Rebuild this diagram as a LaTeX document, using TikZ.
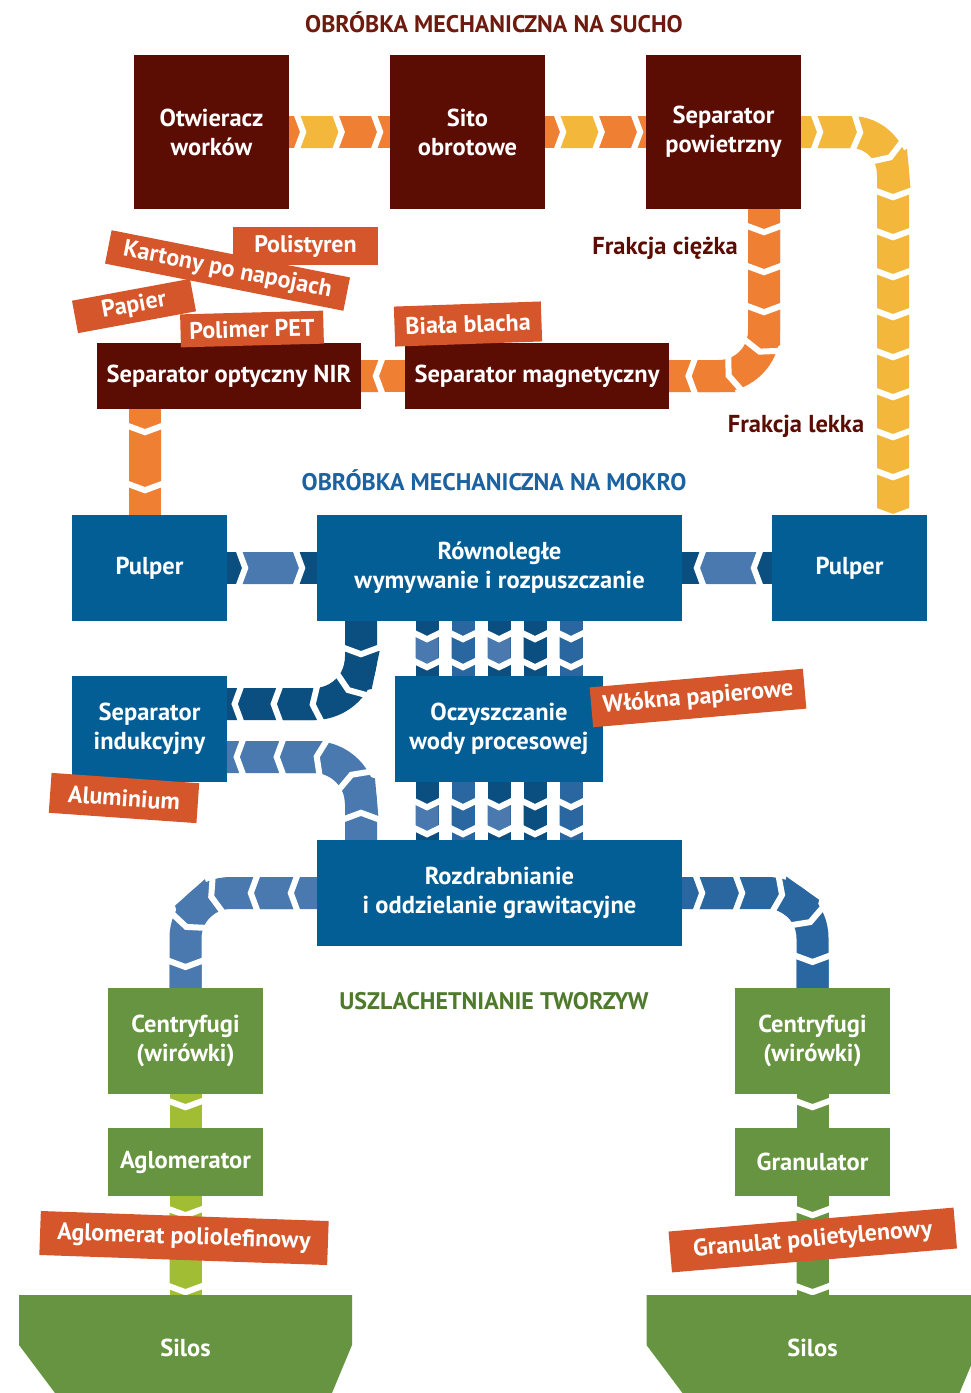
\documentclass[tikz,border=0pt]{standalone}
\usepackage{fontspec}
\setmainfont{PT Sans}
\usetikzlibrary{decorations.markings,backgrounds}

\definecolor{dryred}{RGB}{92,13,3}
\definecolor{drytitle}{RGB}{110,26,14}
\definecolor{chorange}{RGB}{238,127,51}
\definecolor{chyellow}{RGB}{243,184,59}
\definecolor{tagorange}{RGB}{213,86,43}
\definecolor{wetblue}{RGB}{3,94,150}
\definecolor{wettitle}{RGB}{28,98,160}
\definecolor{bluedark}{RGB}{11,78,128}
\definecolor{bluemid}{RGB}{42,103,160}
\definecolor{bluelight}{RGB}{74,121,175}
\definecolor{greenbox}{RGB}{103,148,64}
\definecolor{greentitle}{RGB}{79,122,44}
\definecolor{limegreen}{RGB}{161,189,51}

\newcommand\boxfont{\fontsize{24.5}{29}\selectfont\bfseries}
\newcommand\tagfont{\fontsize{24}{28}\selectfont\bfseries}
\newcommand\headfont{\fontsize{24}{28}\selectfont\bfseries}

% chevron band: depth of the arrow point and width of the white gap
\def\cbtip{7}
\def\cbgap{6pt}

% #1 base colour, #2 alternate colour, #3 half width, #4 period,
% #5 distance of the first gap from the start, #6 path
\newcommand\chevband[6]{%
  \pgfmathsetmacro\cbFirst{#5+#4/2}%
  \pgfmathsetmacro\cbTwo{2*#4}%
  \pgfmathsetmacro\cbHalf{#4/2}%
  \draw[#1, line width=2*#3] #6;%
  \path[decorate, decoration={markings,
      mark=between positions \cbFirst pt and 1 step \cbTwo pt with
      {\fill[#2, sharp corners] (-\cbHalf,#3) -- (\cbHalf,#3) -- (\cbHalf+\cbtip,0)
        -- (\cbHalf,-#3) -- (-\cbHalf,-#3) -- (-\cbHalf+\cbtip,0) -- cycle;}}] #6;%
  \path[decorate, decoration={markings,
      mark=between positions #5pt and 1 step #4pt with
      {\draw[white, sharp corners, line width=\cbgap] (0,#3+3) -- (\cbtip,0) -- (0,-#3-3);}}] #6;%
}

\begin{document}
\begin{tikzpicture}[x=1pt,y=-1pt,
  box/.style={fill=#1, text=white, font=\boxfont, align=center, inner sep=0pt},
  tag/.style={fill=tagorange, text=white, font=\tagfont, inner sep=0pt},
  head/.style={font=\headfont, text=#1, inner sep=0pt},
  flow/.style={font=\boxfont, text=dryred, inner sep=0pt}]

\useasboundingbox (0,0) rectangle (970,1393);

% ---------- dry mechanical treatment ----------
\node[box=dryred, minimum width=155, minimum height=154] (otw) at (211.5,132) {Otwieracz\\worków};
\node[box=dryred, minimum width=155, minimum height=154] (sito) at (467.5,132) {Sito\\obrotowe};
\node[box=dryred, minimum width=155, minimum height=154] (spow) at (723.5,132) {Separator\\powietrzny};
\node[box=dryred, minimum width=264, minimum height=66] (nir) at (229,376) {Separator optyczny NIR};
\node[box=dryred, minimum width=264, minimum height=66] (magn) at (537,376) {Separator magnetyczny};

% ---------- wet mechanical treatment ----------
\node[box=wetblue, minimum width=155, minimum height=106] (pL) at (149.5,568) {Pulper};
\node[box=wetblue, minimum width=365, minimum height=106] (row) at (499.5,568) {Równoległe\\wymywanie i rozpuszczanie};
\node[box=wetblue, minimum width=155, minimum height=106] (pR) at (849.5,568) {Pulper};
\node[box=wetblue, minimum width=155, minimum height=106] (ind) at (149.5,729) {Separator\\indukcyjny};
\node[box=wetblue, minimum width=208, minimum height=106] (ocz) at (499,729) {Oczyszczanie\\wody procesowej};
\node[box=wetblue, minimum width=365, minimum height=106] (roz) at (499.5,893) {Rozdrabnianie\\i oddzielanie grawitacyjne};

% ---------- refining ----------
\node[box=greenbox, minimum width=155, minimum height=106] (cfL) at (185.5,1041) {Centryfugi\\(wirówki)};
\node[box=greenbox, minimum width=155, minimum height=68] (agl) at (185.5,1162) {Aglomerator};
\node[box=greenbox, minimum width=155, minimum height=106] (cfR) at (812.5,1041) {Centryfugi\\(wirówki)};
\node[box=greenbox, minimum width=155, minimum height=68] (gran) at (812.5,1162) {Granulator};

\fill[greenbox] (19,1295) -- (352,1295) -- (352,1345) -- (332,1393) -- (55,1393) -- (19,1345) -- cycle;
\fill[greenbox] (646.5,1295) -- (979.5,1295) -- (979.5,1345) -- (959.5,1393) -- (682.5,1393) -- (646.5,1345) -- cycle;
\coordinate (siloLtop) at (185.5,1295);
\coordinate (siloRtop) at (812.5,1295);
\node[box=greenbox] (siloL) at (185.5,1348) {Silos};
\node[box=greenbox] (siloR) at (812.5,1348) {Silos};

% ---------- conveyors ----------
\begin{pgfonlayer}{background}
  \fill[white] (0,0) rectangle (970,1393);
  % dry line
  \chevband{chorange}{chyellow}{16}{38.5}{7}{(otw.east) -- (sito.west)}
  \chevband{chorange}{chyellow}{16}{38.5}{11}{(sito.east) -- (spow.west)}
  \chevband{chyellow}{chyellow}{16}{40}{12}{(spow.east) [rounded corners=42pt] -| ([xshift=43.5pt]pR.north)}
  \chevband{chorange}{chorange}{16}{40}{16}{([xshift=40.5pt]spow.south) [rounded corners=45pt] |- (magn.east)}
  \chevband{chorange}{chorange}{16}{40}{22}{(magn.west) -- (nir.east)}
  \chevband{chorange}{chorange}{16}{58}{16}{([xshift=-4.5pt]pL.north |- nir.south) -- ([xshift=-4.5pt]pL.north)}
  % wet line
  \chevband{bluedark}{bluelight}{16}{57}{11}{(pL.east) -- (row.west)}
  \chevband{bluedark}{bluelight}{16}{57}{11}{(pR.west) -- (row.east)}
  \chevband{bluedark}{bluedark}{16}{39}{26}{([xshift=-138.5pt]row.south) [rounded corners=47pt] |- ([yshift=25pt]ind.east)}
  \chevband{bluelight}{bluelight}{16}{40}{20}{([xshift=-138.5pt]roz.north) [rounded corners=47pt] |- ([yshift=-28pt]ind.east)}
  % water treatment loop, five narrow lanes
  \foreach \dx/\ca/\cb in {-72/bluedark/bluelight, -36/bluemid/bluemid, 0/bluedark/bluelight, 36/bluedark/bluedark, 72/bluemid/bluemid}{
    \chevband{\ca}{\cb}{11.5}{28}{11}{([xshift=\dx pt]row.south -| ocz.north) -- ([xshift=\dx pt]ocz.north)}
    \chevband{\ca}{\cb}{11.5}{27}{18}{([xshift=\dx pt]ocz.south) -- ([xshift=\dx pt]ocz.south |- roz.north)}
  }
  \chevband{bluelight}{bluelight}{16}{40}{19}{(roz.west) [rounded corners=45pt] -| (cfL.north)}
  \chevband{bluemid}{bluemid}{16}{40}{13}{(roz.east) [rounded corners=45pt] -| (cfR.north)}
  % refining lines
  \chevband{limegreen}{limegreen}{16}{100}{6}{(cfL.south) -- (agl.north)}
  \chevband{limegreen}{limegreen}{16}{77}{12}{(agl.south) -- (agl.south |- siloLtop)}
  \chevband{greenbox}{greenbox}{16}{100}{6}{(cfR.south) -- (gran.north)}
  \chevband{greenbox}{greenbox}{16}{77}{12}{(gran.south) -- (gran.south |- siloRtop)}
\end{pgfonlayer}

% ---------- product tags ----------
\node[tag, minimum width=120, minimum height=33, rotate=10.5] (papier) at (134,306) {Papier};
\node[tag, minimum width=145, minimum height=38] (polist) at (305.5,246) {Polistyren};
\node[tag, minimum width=243, minimum height=34, rotate=-11.2] (kart) at (227.5,270.5) {Kartony po napojach};
\node[tag, minimum width=143, minimum height=33, rotate=1.5] (pet) at (252,329) {Polimer PET};
\node[tag, minimum width=147, minimum height=40, rotate=2] (blacha) at (468,324) {Biała blacha};
\node[tag, minimum width=214, minimum height=40, rotate=5] (wlokna) at (698,698) {Włókna papierowe};
\node[tag, minimum width=148, minimum height=40, rotate=-4] (alu) at (124,798) {Aluminium};
\node[tag, minimum width=288, minimum height=44, rotate=-2] (aglo) at (184,1238) {Aglomerat poliolefinowy};
\node[tag, minimum width=286, minimum height=41, rotate=4.8] (granp) at (812.75,1240) {Granulat polietylenowy};

% ---------- headings ----------
\node[head=drytitle] (tdry) at (494,22) {OBRÓBKA MECHANICZNA NA SUCHO};
\node[head=wettitle] (twet) at (494,480) {OBRÓBKA MECHANICZNA NA MOKRO};
\node[head=greentitle] (tref) at (494,1001) {USZLACHETNIANIE TWORZYW};
\node[flow] (heavy) at (665,248) {Frakcja ciężka};
\node[flow] (light) at (796,426) {Frakcja lekka};
\end{tikzpicture}
\end{document}
